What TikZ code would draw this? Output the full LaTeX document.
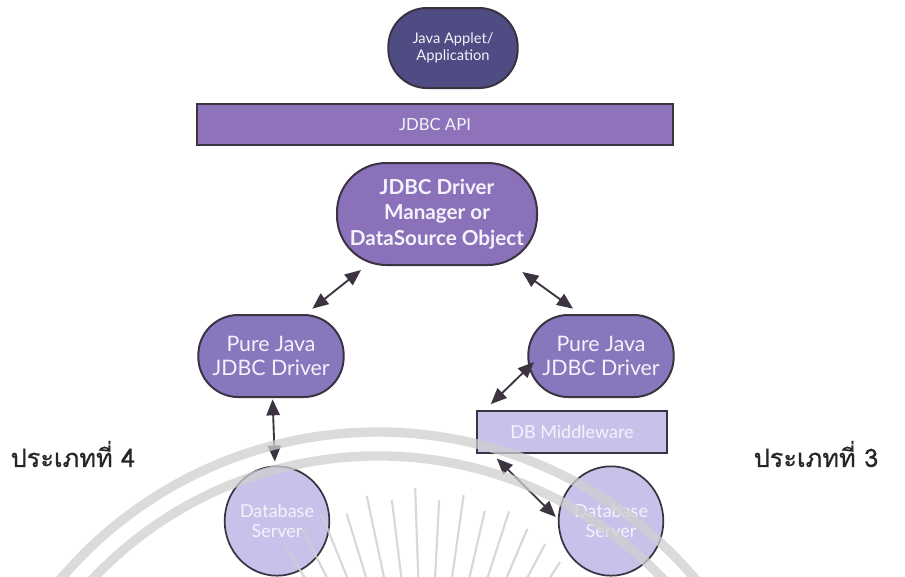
\documentclass[tikz,border=0pt]{standalone}
\usepackage{fontspec}
\setmainfont{Lato}
\newfontfamily\thaifont[Script=Thai,FakeBold=0.6]{Loma}
\usetikzlibrary{arrows.meta,shapes.geometric}

\definecolor{appNavy}{HTML}{4E4C82}
\definecolor{apiPurple}{HTML}{8E73BB}
\definecolor{mgrPurple}{HTML}{8B71B9}
\definecolor{drvPurple}{HTML}{8777BD}
\definecolor{palePurple}{HTML}{C8C2EB}
\definecolor{rim}{HTML}{3B3342}
\definecolor{ink}{HTML}{3C3541}
\definecolor{sealGray}{HTML}{CFCFCF}
\definecolor{labelWhite}{HTML}{F4F2FB}

\tikzset{
  unitbox/.style={draw=rim, line width=1.5pt, text=labelWhite, align=center,
    inner sep=0pt, font=\fontsize{11}{12.5}\selectfont},
  pill/.style={unitbox, rectangle, rounded corners=#1},
  bar/.style={unitbox, rectangle},
  disc/.style={unitbox, ellipse, fill=palePurple, line width=1.3pt,
    minimum width=78pt, minimum height=82pt,
    font=\fontsize{13.5}{15.5}\selectfont},
  link/.style={draw=ink, line width=1.4pt,
    {Triangle[length=12pt,width=10pt]}-{Triangle[length=12pt,width=10pt]}},
  tier/.style={font=\thaifont\fontsize{19}{22}\selectfont, text=black!85},
  seal/.style={draw=sealGray, line width=7pt, opacity=0.75}
}

\begin{document}
\begin{tikzpicture}[x=0.75pt, y=-0.75pt]
  \useasboundingbox (0,0) rectangle (905,576);
  \fill[white] (0,0) rectangle (905,576);

  % application layer and API
  \node[pill=29pt, fill=appNavy, minimum width=97pt, minimum height=60pt]
    (app) at (453,48) {Java Applet/\\Application};
  \node[bar, fill=apiPurple, minimum width=357pt, minimum height=31pt,
    font=\fontsize{12.5}{14}\selectfont] (api) at (435,124.5) {JDBC API};

  % driver manager
  \node[pill=37pt, fill=mgrPurple, minimum width=150pt, minimum height=76.5pt,
    font=\bfseries\fontsize{15.5}{19}\selectfont]
    (mgr) at (437,214) {JDBC Driver\\Manager or\\DataSource Object};

  % the two pure Java drivers
  \node[pill=30pt, fill=drvPurple, minimum width=109pt, minimum height=61.5pt,
    font=\fontsize{16}{18.5}\selectfont]
    (ldrv) at (271,356) {Pure Java\\JDBC Driver};
  \node[pill=30pt, fill=drvPurple, minimum width=109pt, minimum height=61.5pt,
    font=\fontsize{16}{18.5}\selectfont]
    (rdrv) at (601,356) {Pure Java\\JDBC Driver};

  % middleware and database servers
  \node[bar, fill=palePurple, minimum width=142.5pt, minimum height=31.5pt,
    line width=1.3pt, font=\fontsize{13.5}{15}\selectfont]
    (mw) at (572,432) {DB Middleware};
  \node[disc] (lsrv) at (277,521) {Database\\Server};
  \node[disc] (rsrv) at (611,521) {Database\\Server};

  % connectors
  \draw[link] ([xshift=-57pt, yshift=-3pt]mgr.south)
    -- ([xshift=31pt, yshift=4pt]ldrv.north);
  \draw[link] ([xshift=64pt, yshift=-4.5pt]mgr.south)
    -- ([xshift=-21pt, yshift=4pt]rdrv.north);
  \draw[link, shorten <=1pt, shorten >=3pt] (ldrv) -- (lsrv);
  \draw[link] ([xshift=5pt, yshift=-4.5pt]rdrv.west)
    -- ([xshift=11pt, yshift=4.5pt]mw.north west);
  \draw[link] ([xshift=15.5pt, yshift=-3.5pt]mw.south west)
    -- ([xshift=-1.5pt, yshift=3pt]rsrv.west);

  % driver type labels
  \node[tier] (t4) at (73,454) {ประเภทที่ 4};
  \node[tier] (t3) at (816,454) {ประเภทที่ 3};

  % faint seal over the lower part: two rings and a fan of rays
  \draw[seal] (378,848) ++(214:416) arc[start angle=214, end angle=326, radius=416];
  \draw[seal] (378,848) ++(212:392) arc[start angle=212, end angle=328, radius=392];
  \foreach \a/\r in {238/262,243/270,248/276,253/268,258/280,263/272,268/282,
                     273/270,278/278,283/266,288/272,293/262,298/256,303/248}
    \draw[draw=sealGray, line width=1.6pt, opacity=0.8]
      (425,770) ++(\a:150) -- ++(\a:\r-150);
\end{tikzpicture}
\end{document}
